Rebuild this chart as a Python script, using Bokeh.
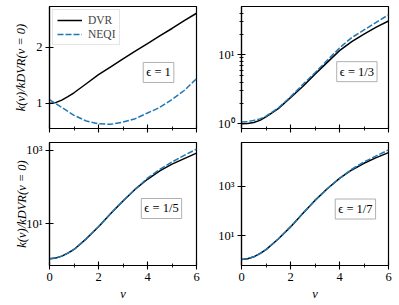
from bokeh.plotting import figure
from bokeh.layouts import gridplot
from bokeh.models import FixedTicker, Label, Range1d, Legend, LegendItem
from bokeh.embed import file_html
from bokeh.resources import INLINE

# ---------------- data ----------------
nu = [0, 0.25, 0.5, 0.75, 1, 1.5, 2, 2.5, 3, 3.5, 4, 4.5, 5, 5.5, 6]

# eps = 1 (linear)
dvr_eps1 = [1.00, 1.015, 1.06, 1.12, 1.19, 1.35, 1.51, 1.65, 1.79, 1.93, 2.06, 2.20, 2.33, 2.47, 2.60]
neqi_eps1 = [1.07, 1.00, 0.93, 0.86, 0.79, 0.69, 0.64, 0.63, 0.67, 0.73, 0.83, 0.93, 1.07, 1.23, 1.44]

# eps = 1/3 (log10 values)
dvr_eps3_log = [0.0, 0.005, 0.02, 0.05, 0.10, 0.22, 0.38, 0.54, 0.72, 0.89, 1.06, 1.19, 1.30, 1.40, 1.49]
neqi_eps3_log = [0.025, 0.03, 0.05, 0.07, 0.11, 0.23, 0.39, 0.57, 0.74, 0.92, 1.10, 1.25, 1.36, 1.47, 1.58]

# eps = 1/5 (log10 values)
dvr_eps5_log = [0.045, 0.065, 0.12, 0.20, 0.30, 0.59, 0.92, 1.28, 1.62, 1.94, 2.21, 2.44, 2.62, 2.77, 2.92]
neqi_eps5_log = [0.045, 0.065, 0.12, 0.20, 0.30, 0.59, 0.92, 1.28, 1.62, 1.94, 2.24, 2.48, 2.68, 2.86, 3.03]

# eps = 1/7 (log10 values)
dvr_eps7_log = [0.03, 0.06, 0.14, 0.27, 0.43, 0.86, 1.35, 1.89, 2.42, 2.89, 3.31, 3.65, 3.92, 4.15, 4.35]
neqi_eps7_log = [0.03, 0.06, 0.14, 0.27, 0.43, 0.86, 1.35, 1.89, 2.42, 2.89, 3.31, 3.68, 3.97, 4.22, 4.46]

eps_labels = ["ϵ = 1", "ϵ = 1/3", "ϵ = 1/5", "ϵ = 1/7"]
x_ticks = [0, 2, 4, 6]
x_minor = [1, 3, 5]
ylabel = "k(ν)/kDVR(ν = 0)"
xlabel = "ν"

FONT = "Liberation Serif"
BLUE = "#1f77b4"
DASH = "6 2"


def pow10(vals):
    return [10 ** v for v in vals]


def make_fig(width, height, bl, br, bt, bb, y_log, y_range):
    p = figure(width=width, height=height, output_backend="svg", toolbar_location=None,
               y_axis_type="log" if y_log else "linear",
               x_range=Range1d(0, 6), y_range=Range1d(*y_range),
               min_border_left=bl, min_border_right=br, min_border_top=bt, min_border_bottom=bb)
    p.grid.visible = False
    p.outline_line_color = "black"
    p.outline_line_width = 1.2
    p.outline_line_alpha = 1
    p.background_fill_color = "white"
    p.border_fill_color = "white"
    for ax in (p.xaxis[0], p.yaxis[0]):
        ax.axis_line_color = "black"
        ax.axis_line_width = 1.2
        ax.major_tick_line_color = "black"
        ax.minor_tick_line_color = "black"
        ax.major_tick_line_width = 1.1
        ax.minor_tick_line_width = 0.9
        ax.major_tick_in = 4
        ax.major_tick_out = 4
        ax.minor_tick_in = 2
        ax.minor_tick_out = 2
        ax.major_label_text_font = FONT
        ax.major_label_text_font_size = "12.5px"
        ax.major_label_text_color = "black"
        ax.axis_label_text_font = FONT
        ax.axis_label_text_font_size = "12.5px"
        ax.axis_label_text_font_style = "italic"
        ax.axis_label_text_color = "black"
        ax.major_label_standoff = 3
        ax.axis_label_standoff = 3
    p.xaxis.ticker = FixedTicker(ticks=x_ticks, minor_ticks=x_minor)
    return p


def hide_x_labels(p):
    p.xaxis.major_label_text_font_size = "0px"
    p.xaxis.major_label_standoff = 0
    p.xaxis.major_label_overrides = {t: "" for t in x_ticks}


def add_eps(p, text, x, y):
    p.add_layout(Label(x=x, y=y, text=text, text_align="center", text_baseline="middle",
                       text_font=FONT, text_font_size="12.5px", text_color="black",
                       border_line_color="#b0b0b0", border_line_width=1,
                       background_fill_color="white", background_fill_alpha=1, padding=3))


LW, RW = 200, 199
TH, BH = 135, 170

# ---- top-left ----
p1 = make_fig(LW, TH, 49, 4, 6, 7, False, (0.556, 2.72))
hide_x_labels(p1)
p1.yaxis.ticker = FixedTicker(ticks=[1, 2], minor_ticks=[])
p1.yaxis.axis_label = ylabel
p1.yaxis.axis_label_standoff = 5
r1 = p1.line(nu, dvr_eps1, line_color="black", line_width=1.5)
r2 = p1.line(nu, neqi_eps1, line_color=BLUE, line_width=1.5, line_dash=DASH)
leg = Legend(items=[LegendItem(label="DVR", renderers=[r1]), LegendItem(label="NEQI", renderers=[r2])],
             location="top_left")
leg.label_text_font = FONT
leg.label_text_font_size = "11.5px"
leg.label_height = 12
leg.glyph_height = 12
leg.glyph_width = 25
leg.spacing = 2
leg.padding = 4
leg.margin = 3
leg.label_standoff = 6
leg.border_line_color = "#cccccc"
leg.border_line_width = 1
leg.background_fill_alpha = 1
p1.add_layout(leg)
add_eps(p1, eps_labels[0], 4.45, 1.55)

# ---- top-right ----
p2 = make_fig(RW, TH, 41, 11, 6, 7, True, (10 ** -0.068, 10 ** 1.70))
hide_x_labels(p2)
p2.yaxis.ticker = FixedTicker(ticks=[1, 10], minor_ticks=[2, 3, 4, 5, 6, 7, 8, 9, 20, 30, 40])
p2.yaxis.major_label_overrides = {1: "10⁰", 10: "10¹"}
p2.line(nu, pow10(dvr_eps3_log), line_color="black", line_width=1.5)
p2.line(nu, pow10(neqi_eps3_log), line_color=BLUE, line_width=1.5, line_dash=DASH)
add_eps(p2, eps_labels[1], 4.71, 5.7)

# ---- bottom-left ----
p3 = make_fig(LW, BH, 49, 4, 7, 40, True, (10 ** -0.136, 10 ** 3.21))
p3.yaxis.ticker = FixedTicker(ticks=[10, 1000], minor_ticks=[])
p3.yaxis.major_label_overrides = {10: "10¹", 1000: "10³"}
p3.yaxis.axis_label = ylabel
p3.yaxis.axis_label_standoff = -6
p3.xaxis.axis_label = xlabel
p3.line(nu, pow10(dvr_eps5_log), line_color="black", line_width=1.5)
p3.line(nu, pow10(neqi_eps5_log), line_color=BLUE, line_width=1.5, line_dash=DASH)
add_eps(p3, eps_labels[2], 4.57, 26)

# ---- bottom-right ----
p4 = make_fig(RW, BH, 41, 11, 7, 40, True, (10 ** -0.21, 10 ** 4.76))
p4.yaxis.ticker = FixedTicker(ticks=[10, 1000], minor_ticks=[])
p4.yaxis.major_label_overrides = {10: "10¹", 1000: "10³"}
p4.xaxis.axis_label = xlabel
p4.line(nu, pow10(dvr_eps7_log), line_color="black", line_width=1.5)
p4.line(nu, pow10(neqi_eps7_log), line_color=BLUE, line_width=1.5, line_dash=DASH)
add_eps(p4, eps_labels[3], 4.65, 118)

grid = gridplot([[p1, p2], [p3, p4]], toolbar_location=None)

open("out.html", "w").write(file_html(grid, INLINE))
